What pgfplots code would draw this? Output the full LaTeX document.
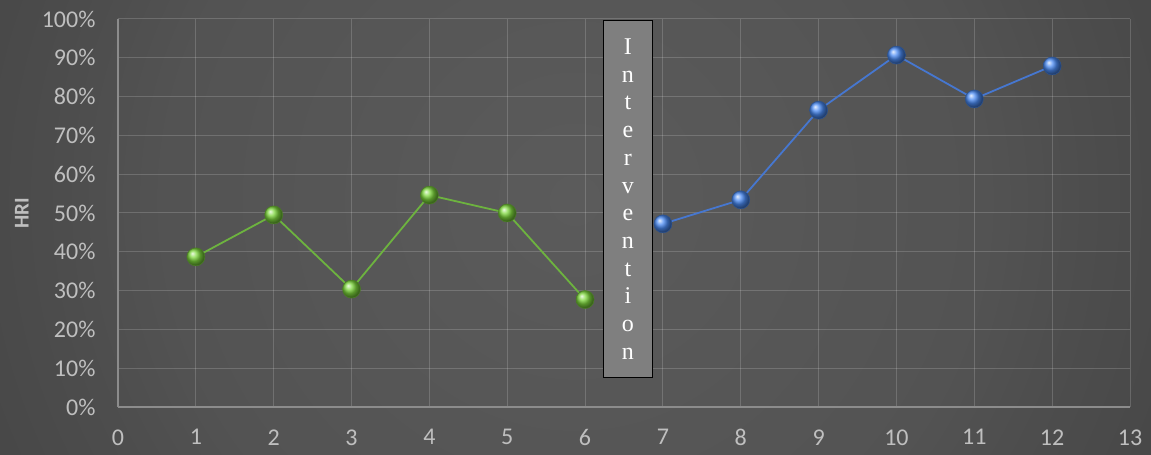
\documentclass[border=0pt]{standalone}
\usepackage{pgfplots}
\pgfplotsset{compat=1.18}
\usepackage{fontspec}
\setmainfont{Carlito}
\newfontfamily\timesfont{Liberation Serif}
\definecolor{bg0}{HTML}{5B5B5B}
\definecolor{bg1}{HTML}{535353}
\definecolor{bg2}{HTML}{4D4D4D}
\definecolor{bg3}{HTML}{404040}
\definecolor{bg4}{HTML}{303030}
\definecolor{bg5}{HTML}{2A2A2A}
\definecolor{tickc}{HTML}{BFBFBF}
\definecolor{axisc}{HTML}{8C8C8C}
\definecolor{gline}{HTML}{6DB33F}
\definecolor{gball}{HTML}{7DD63C}
\definecolor{bline}{HTML}{4677D0}
\definecolor{bball}{HTML}{4A8AF2}
\definecolor{boxc}{HTML}{7F7F7F}
\pgfdeclareradialshading{bgshade}{\pgfpoint{0bp}{0bp}}{color(0bp)=(bg0); color(16bp)=(bg1); color(20bp)=(bg2); color(31bp)=(bg3); color(45bp)=(bg4); color(50bp)=(bg5)}
\begin{document}
\begin{tikzpicture}[x=1pt,y=1pt]
\begin{scope}
\clip (0,0) rectangle (1151,455);
\shade[shading=bgshade] (575,255) circle (640);
\end{scope}
\begin{axis}[
  at={(118pt,48pt)}, anchor=south west,
  scale only axis, width=1012pt, height=388pt,
  xmin=0, xmax=13, ymin=0, ymax=100,
  xtick={0,1,...,13}, ytick={0,10,...,100},
  yticklabels={0\%,10\%,20\%,30\%,40\%,50\%,60\%,70\%,80\%,90\%,100\%},
  /pgf/number format/assume math mode=true,
  axis x line=bottom, axis y line=left,
  axis line style={-, draw=axisc, line width=1.2pt},
  grid=major,
  major grid style={draw=white, opacity=0.17, line width=1pt},
  major tick length=0pt,
  tick style={draw=none},
  ticklabel style={font=\fontsize{24}{28}\selectfont, text=tickc},
  xticklabel style={yshift=-19pt},
  yticklabel style={xshift=-19pt},
  clip=false,
]
\addplot[gline, line width=1.8pt, mark=ball, mark size=9pt, mark options={ball color=gball, draw=gball!60!black, line width=0.5pt}] coordinates {
 (1,38.7) (2,49.5) (3,30.4) (4,54.6) (5,50.0) (6,27.7)
};
\addplot[bline, line width=1.8pt, mark=ball, mark size=9pt, mark options={ball color=bball, draw=bball!60!black, line width=0.5pt}] coordinates {
 (7,47.2) (8,53.4) (9,76.5) (10,90.7) (11,79.4) (12,87.9)
};
\draw[fill=boxc, draw=black, line width=1pt] (axis cs:6.24,99.5) rectangle (axis cs:6.86,7.5);
\node[font=\timesfont\fontsize{24}{27.7}\selectfont, text=white, align=center] at (axis cs:6.55,53.6)
 {I\\n\\t\\e\\r\\v\\e\\n\\t\\i\\o\\n};
\node[rotate=90, font=\bfseries\fontsize{21}{24}\selectfont, text=tickc] at (rel axis cs:-0.095,0.5) {HRI};
\end{axis}
\end{tikzpicture}
\end{document}
